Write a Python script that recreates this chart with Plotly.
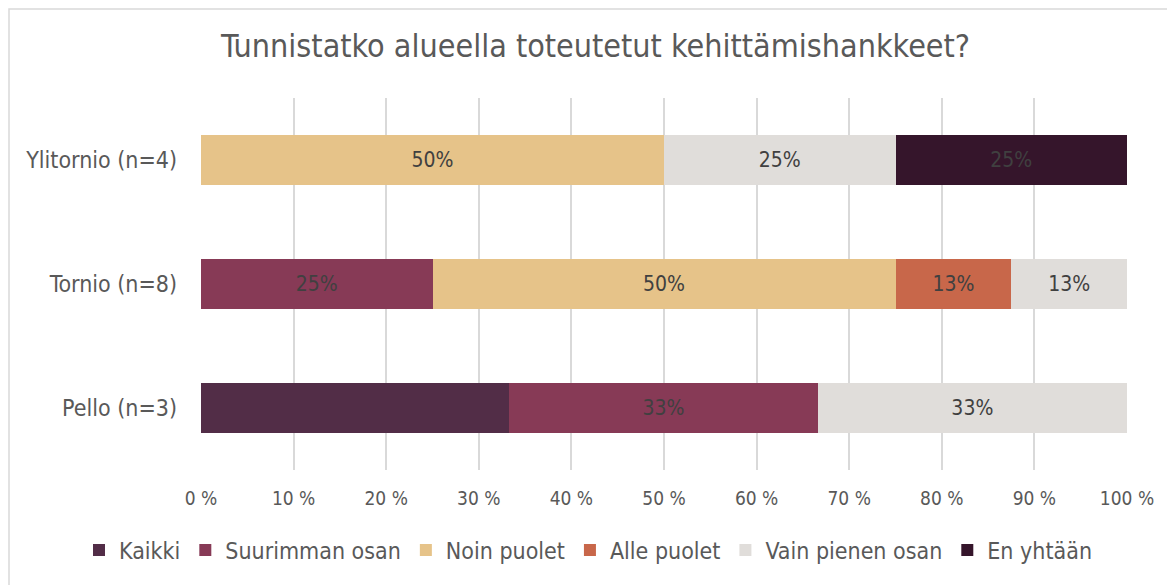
import plotly.graph_objects as go

categories = ["Pello (n=3)", "Tornio (n=8)", "Ylitornio (n=4)"]
series_names = ["Kaikki", "Suurimman osan", "Noin puolet", "Alle puolet", "Vain pienen osan", "En yhtään"]
kaikki = [33.3, 0, 0]
suurimman = [33.3, 25, 0]
noin = [0, 50, 50]
alle = [0, 12.5, 0]
vain = [33.4, 12.5, 25]
en = [0, 0, 25]
labels_kaikki = ["", "", ""]
labels_suurimman = ["33%", "25%", ""]
labels_noin = ["", "50%", "50%"]
labels_alle = ["", "13%", ""]
labels_vain = ["33%", "13%", "25%"]
labels_en = ["", "", "25%"]
colors = ["#522D47", "#873A56", "#E6C389", "#C8674A", "#E0DDDA", "#35152B"]
x_ticks = [0, 10, 20, 30, 40, 50, 60, 70, 80, 90, 100]
x_tick_labels = [f"{v} %" for v in x_ticks]

FONT = "DejaVu Sans Condensed, Liberation Sans Narrow, DejaVu Sans, sans-serif"

fig = go.Figure()
all_vals = [kaikki, suurimman, noin, alle, vain, en]
all_labels = [labels_kaikki, labels_suurimman, labels_noin, labels_alle, labels_vain, labels_en]
for name, vals, labs, col in zip(series_names, all_vals, all_labels, colors):
    fig.add_trace(go.Bar(
        y=categories, x=vals, name=name, orientation="h",
        marker=dict(color=col, line=dict(width=0)),
        text=labs, textposition="inside", insidetextanchor="middle",
        textfont=dict(color="#404040", size=21, family=FONT),
        cliponaxis=False, hoverinfo="skip",
    ))

# page body has an 8px offset; margins compensate so the plot lands where the reference has it
L, R, T, B = 193, 56, 90, 123
W, H = 1175, 585
PW, PH = W - L - R, H - T - B

fig.update_layout(
    barmode="stack",
    bargap=0.6,
    width=W, height=H,
    margin=dict(l=L, r=R, t=T, b=B, autoexpand=False),
    paper_bgcolor="white", plot_bgcolor="white",
    font=dict(family=FONT, color="#595959", size=19),
    title=dict(text="Tunnistatko alueella toteutetut kehittämishankkeet?",
               x=0.5, xref="container", y=1 - 38 / H, yref="container",
               xanchor="center", yanchor="middle",
               font=dict(size=32, color="#595959", family=FONT)),
    xaxis=dict(range=[0, 100], tickvals=x_ticks, ticktext=x_tick_labels,
               showgrid=True, gridcolor="#D9D9D9", gridwidth=2,
               zeroline=False, showline=False, ticks="", ticklabelstandoff=15,
               tickfont=dict(size=19, color="#595959")),
    yaxis=dict(showgrid=False, zeroline=False, showline=False, ticks="",
               ticklabelstandoff=23, tickfont=dict(size=23, color="#595959")),
    legend=dict(orientation="h", xref="paper", x=(71 - L) / PW, xanchor="left",
                y=-(542 - (H - B)) / PH, yanchor="middle",
                font=dict(size=23, color="#595959"), itemwidth=30, traceorder="normal"),
    uniformtext=dict(mode="show", minsize=8),
)
fig.add_shape(type="rect", xref="paper", yref="paper",
              x0=(1 - L) / PW, x1=(W + 50 - L) / PW,
              y0=-(H + 50 - (H - B)) / PH, y1=1 + (T - 1) / PH,
              line=dict(color="#D9D9D9", width=1.5), fillcolor="rgba(0,0,0,0)", layer="below")
fig.write_html("out.html")
